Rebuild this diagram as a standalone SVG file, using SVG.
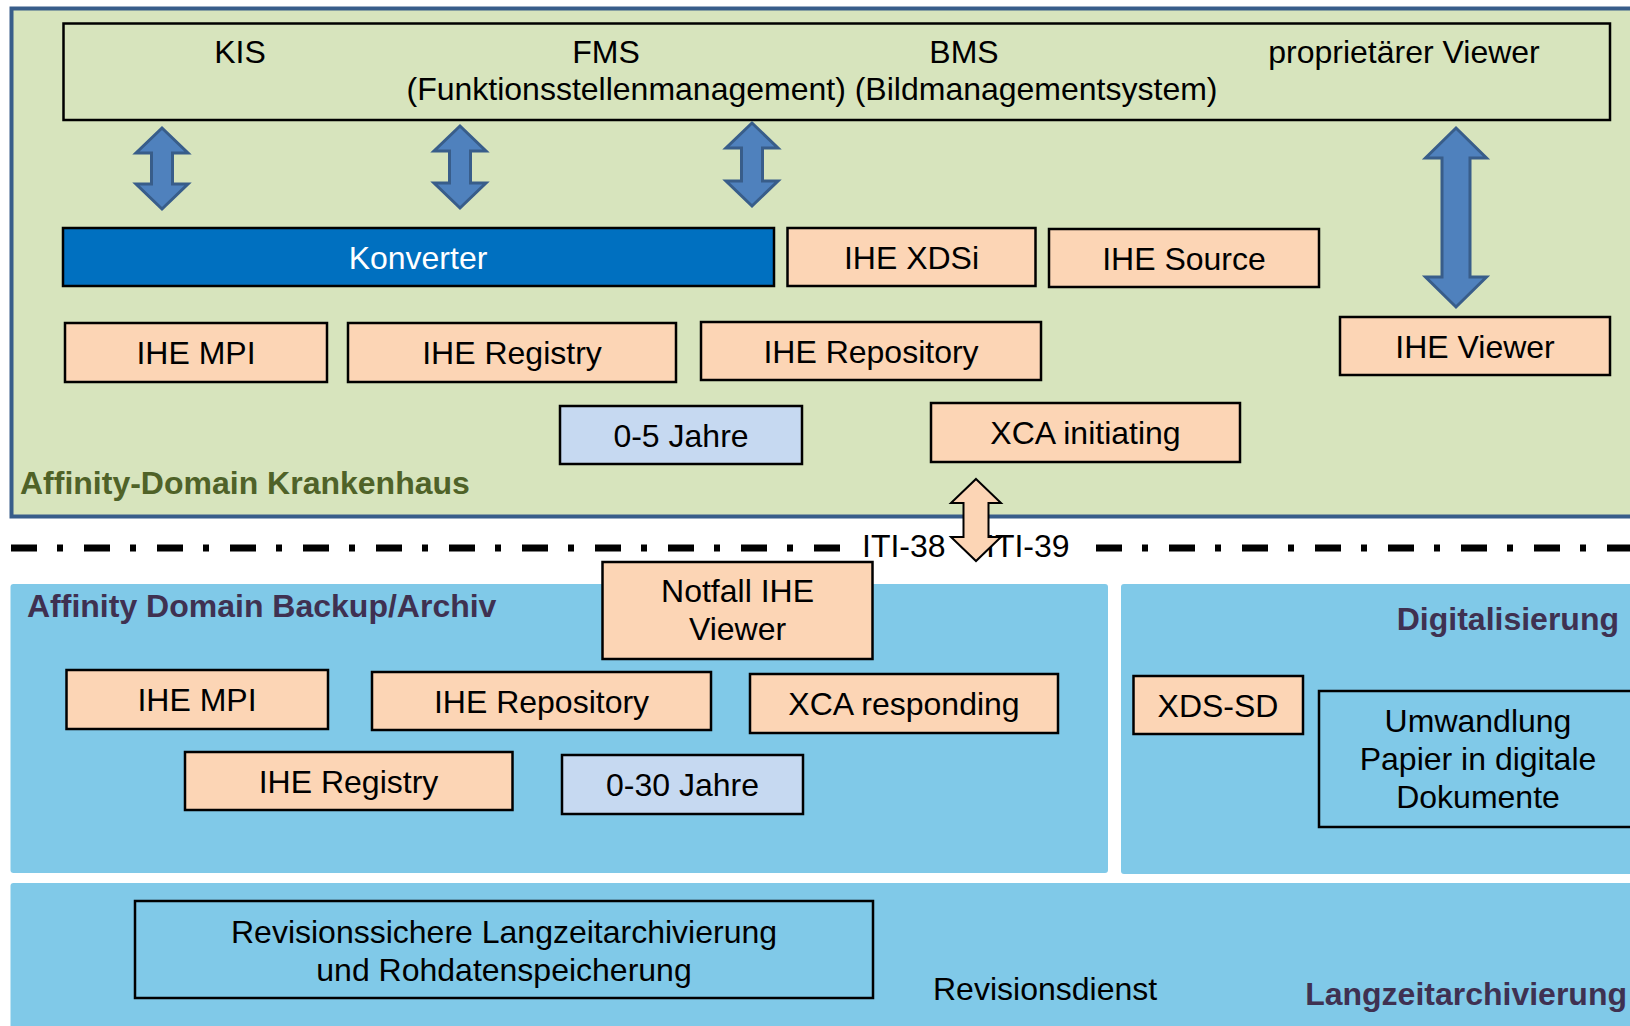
<svg xmlns="http://www.w3.org/2000/svg" width="1630" height="1026" viewBox="0 0 1630 1026">
<style>
text{font-family:"Liberation Sans",Arial,sans-serif;font-size:32px;fill:#000}
.c{text-anchor:middle}
.peach{fill:#FCD5B5;stroke:#000;stroke-width:2.5}
.lblue{fill:#C6D9F1;stroke:#000;stroke-width:2.5}
.plain{fill:none;stroke:#000;stroke-width:2.5}
.panel{fill:#80C9E8}
.barrow{fill:#4F81BD;stroke:#385D8A;stroke-width:3;stroke-linejoin:miter}
.parrow{fill:#FCD5B5;stroke:#000;stroke-width:2}
.bold{font-weight:bold}
.purple{fill:#3F3151}
.olive{fill:#4F6228}
.dash{stroke:#000;stroke-width:7;stroke-dasharray:26 20 6 21;fill:none}
</style>

<!-- Panels -->
<g id="panel-krankenhaus">
<rect x="11.5" y="8.5" width="1640" height="508" fill="#D7E4BD" stroke="#385D8A" stroke-width="4"/>
<text x="20" y="494" class="bold olive">Affinity-Domain Krankenhaus</text>
</g>
<g id="panel-backup">
<rect x="10.5" y="584" width="1097.5" height="289" rx="3" class="panel"/>
<text x="27" y="617" class="bold purple">Affinity Domain Backup/Archiv</text>
</g>
<g id="panel-digital">
<rect x="1121" y="584" width="530" height="290" rx="3" class="panel"/>
<text x="1619" y="630" class="bold purple" text-anchor="end">Digitalisierung</text>
</g>
<g id="panel-langzeit">
<rect x="10.5" y="883" width="1640" height="160" rx="3" class="panel"/>
<text x="1627" y="1005" class="bold purple" text-anchor="end">Langzeitarchivierung</text>
<text x="933" y="1000">Revisionsdienst</text>
</g>

<!-- Separator line -->
<g id="separator">
<line x1="11" y1="548" x2="842" y2="548" class="dash"/>
<line x1="1096" y1="548" x2="1640" y2="548" class="dash"/>
<text x="862" y="557">ITI-38</text>
<text x="986" y="557">ITI-39</text>
</g>

<!-- Nodes -->
<g id="systems">
<rect x="63.5" y="23.5" width="1546.5" height="96.5" class="plain"/>
<text x="240" y="63" class="c">KIS</text>
<text x="606" y="63" class="c">FMS</text>
<text x="964" y="63" class="c">BMS</text>
<text x="1404" y="63" class="c">proprietärer Viewer</text>
<text x="812" y="100" class="c">(Funktionsstellenmanagement) (Bildmanagementsystem)</text>
</g>
<g id="konverter">
<rect x="63" y="228" width="711" height="58" fill="#0070C0" stroke="#000" stroke-width="2.5"/>
<text x="418" y="269" class="c" style="fill:#fff">Konverter</text>
</g>
<g id="ihe-xdsi">
<rect x="787.5" y="228" width="248" height="58" class="peach"/>
<text x="911.5" y="269" class="c">IHE XDSi</text>
</g>
<g id="ihe-source">
<rect x="1049" y="229" width="270" height="58" class="peach"/>
<text x="1184" y="270" class="c">IHE Source</text>
</g>
<g id="ihe-mpi-1">
<rect x="65" y="323" width="262" height="59" class="peach"/>
<text x="196" y="364" class="c">IHE MPI</text>
</g>
<g id="ihe-registry-1">
<rect x="348" y="323" width="328" height="59" class="peach"/>
<text x="512" y="364" class="c">IHE Registry</text>
</g>
<g id="ihe-repository-1">
<rect x="701" y="322" width="340" height="58" class="peach"/>
<text x="871" y="363" class="c">IHE Repository</text>
</g>
<g id="ihe-viewer">
<rect x="1340" y="317" width="270" height="58" class="peach"/>
<text x="1475" y="358" class="c">IHE Viewer</text>
</g>
<g id="jahre-0-5">
<rect x="560" y="406" width="242" height="58" class="lblue"/>
<text x="681" y="447" class="c">0-5 Jahre</text>
</g>
<g id="xca-initiating">
<rect x="931" y="403" width="309" height="59" class="peach"/>
<text x="1085.5" y="444" class="c">XCA initiating</text>
</g>
<g id="notfall-viewer">
<rect x="602.5" y="562" width="270" height="97" class="peach"/>
<text x="737.5" y="602" class="c">Notfall IHE</text>
<text x="737.5" y="640" class="c">Viewer</text>
</g>
<g id="ihe-mpi-2">
<rect x="66.5" y="670" width="261.5" height="59" class="peach"/>
<text x="197" y="711" class="c">IHE MPI</text>
</g>
<g id="ihe-repository-2">
<rect x="372" y="672" width="339" height="58" class="peach"/>
<text x="541.5" y="713" class="c">IHE Repository</text>
</g>
<g id="xca-responding">
<rect x="750" y="674" width="308" height="59" class="peach"/>
<text x="904" y="715" class="c">XCA responding</text>
</g>
<g id="ihe-registry-2">
<rect x="185" y="752" width="327.5" height="58" class="peach"/>
<text x="348.5" y="793" class="c">IHE Registry</text>
</g>
<g id="jahre-0-30">
<rect x="562" y="755" width="241" height="59" class="lblue"/>
<text x="682.5" y="796" class="c">0-30 Jahre</text>
</g>
<g id="xds-sd">
<rect x="1133.5" y="676" width="169.5" height="58" class="peach"/>
<text x="1218" y="717" class="c">XDS-SD</text>
</g>
<g id="umwandlung">
<rect x="1319" y="691" width="340" height="136" class="plain"/>
<text x="1478" y="732" class="c">Umwandlung</text>
<text x="1478" y="770" class="c">Papier in digitale</text>
<text x="1478" y="808" class="c">Dokumente</text>
</g>
<g id="revisionssicher">
<rect x="135" y="901" width="738" height="97" class="plain"/>
<text x="504" y="943" class="c">Revisionssichere Langzeitarchivierung</text>
<text x="504" y="981" class="c">und Rohdatenspeicherung</text>
</g>

<!-- Connectors -->
<g id="connectors">
<polygon class="barrow" points="162,128 188,153 172.5,153 172.5,184 188,184 162,209 136,184 151.5,184 151.5,153 136,153"/>
<polygon class="barrow" points="460,126 486,151 470.5,151 470.5,183 486,183 460,208 434,183 449.5,183 449.5,151 434,151"/>
<polygon class="barrow" points="752,123 778,148 762.5,148 762.5,181 778,181 752,206 726,181 741.5,181 741.5,148 726,148"/>
<polygon class="barrow" points="1456,128 1486.5,158 1470,158 1470,277 1486.5,277 1456,307 1425.5,277 1442,277 1442,158 1425.5,158"/>
<polygon class="parrow" points="976,479 1001,503 988.5,503 988.5,537 1001,537 976,561 951,537 963.5,537 963.5,503 951,503"/>
</g>
</svg>
